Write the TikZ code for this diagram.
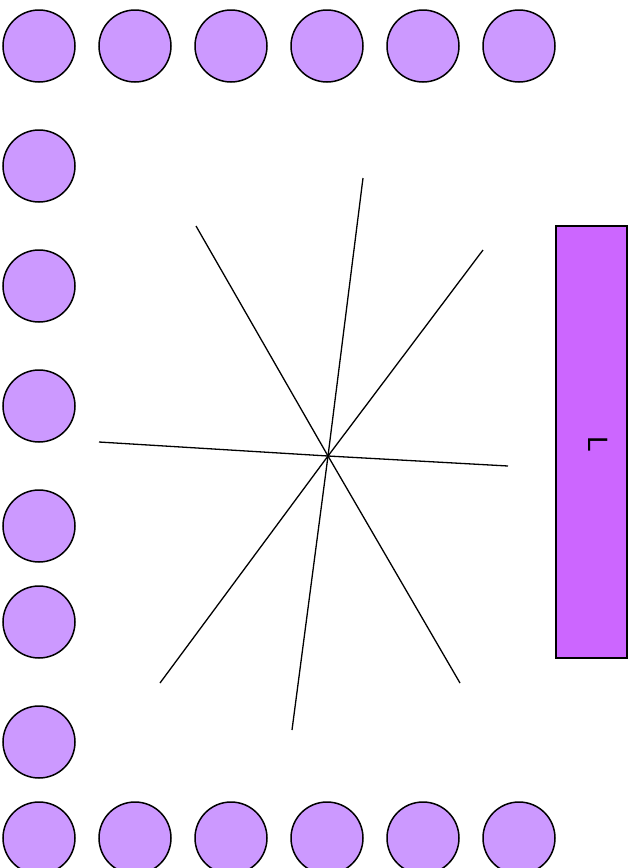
\documentclass[tikz,border=0pt]{standalone}
\usepackage{fontspec}
\setmainfont{Liberation Sans}
\usepackage{tikz}
\definecolor{seatfill}{HTML}{CC99FF}
\definecolor{deskfill}{HTML}{CC66FF}
\tikzstyle{seat} = [circle,draw,fill=seatfill,line width=1.5pt,minimum size=72pt,inner sep=0pt]
\tikzstyle{desk} = [rectangle,draw,fill=deskfill,line width=1.5pt,minimum width=71pt,minimum height=432pt,inner sep=0pt]
\tikzstyle{spoke} = [line width=1.3pt]

\begin{document}
\begin{tikzpicture}[x=1pt,y=-1pt]
    \useasboundingbox (0,0) rectangle (635,868);
    % top and bottom rows
    \foreach \i/\x in {1/39,2/135,3/231,4/327,5/423,6/519}{
        \node[seat] (top\i) at (\x,46) {};
        \node[seat] (bot\i) at (\x,838) {};
    }
    % left column
    \foreach \i/\y in {1/166,2/286,3/406,4/526,5/622,6/742}{
        \node[seat] (left\i) at (39,\y) {};
    }
    % desk on the right
    \node[desk] (desk) at (591.5,442) {};
    \node[rotate=-90,inner sep=0pt,font=\fontsize{28}{32}\selectfont] (deskname) at (598,444) {L};
    % star in the middle
    \coordinate (hub) at (328,456);
    \draw[spoke] (99,442) -- (hub) -- (508,466);
    \draw[spoke] (196,226) -- (hub) -- (460,683);
    \draw[spoke] (363,178) -- (hub) -- (292,730);
    \draw[spoke] (483,250) -- (hub) -- (160,683);
\end{tikzpicture}
\end{document}
